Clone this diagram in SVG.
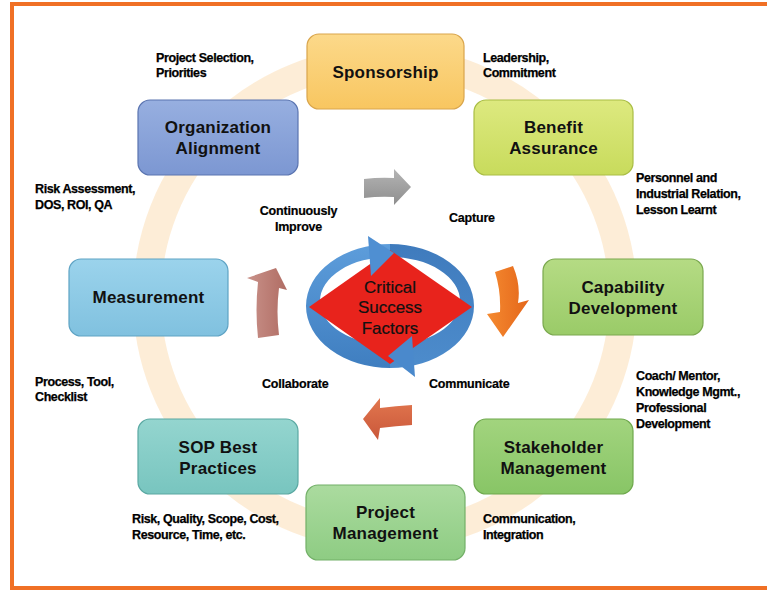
<svg xmlns="http://www.w3.org/2000/svg" width="767" height="592" viewBox="0 0 767 592">
  <defs>
    <linearGradient id="gSpon" x1="0" y1="0" x2="0" y2="1"><stop offset="0" stop-color="#fcd98a"/><stop offset="1" stop-color="#f8c660"/></linearGradient>
    <linearGradient id="gOrg" x1="0" y1="0" x2="0" y2="1"><stop offset="0" stop-color="#97afe0"/><stop offset="1" stop-color="#7c97d2"/></linearGradient>
    <linearGradient id="gBen" x1="0" y1="0" x2="0" y2="1"><stop offset="0" stop-color="#dde97f"/><stop offset="1" stop-color="#c8db5c"/></linearGradient>
    <linearGradient id="gCap" x1="0" y1="0" x2="0" y2="1"><stop offset="0" stop-color="#b5db84"/><stop offset="1" stop-color="#9acb68"/></linearGradient>
    <linearGradient id="gStk" x1="0" y1="0" x2="0" y2="1"><stop offset="0" stop-color="#a2d47e"/><stop offset="1" stop-color="#88c566"/></linearGradient>
    <linearGradient id="gPrj" x1="0" y1="0" x2="0" y2="1"><stop offset="0" stop-color="#abdb9f"/><stop offset="1" stop-color="#8ecc83"/></linearGradient>
    <linearGradient id="gSop" x1="0" y1="0" x2="0" y2="1"><stop offset="0" stop-color="#94d5cf"/><stop offset="1" stop-color="#78c5bf"/></linearGradient>
    <linearGradient id="gMea" x1="0" y1="0" x2="0" y2="1"><stop offset="0" stop-color="#9bd3ec"/><stop offset="1" stop-color="#80c1df"/></linearGradient>
    <linearGradient id="gGray" x1="0" y1="0" x2="0" y2="1"><stop offset="0" stop-color="#b4b4b4"/><stop offset="1" stop-color="#8e8e8e"/></linearGradient>
    <linearGradient id="gOrange" x1="0" y1="0" x2="1" y2="0"><stop offset="0" stop-color="#f58a30"/><stop offset="1" stop-color="#e4661a"/></linearGradient>
    <linearGradient id="gRust" x1="0" y1="0" x2="0" y2="1"><stop offset="0" stop-color="#e2774f"/><stop offset="1" stop-color="#c9573a"/></linearGradient>
    <linearGradient id="gRose" x1="0" y1="0" x2="1" y2="0"><stop offset="0" stop-color="#c9928a"/><stop offset="1" stop-color="#b06c63"/></linearGradient>
    <linearGradient id="gBlueL" x1="0" y1="0" x2="0" y2="1"><stop offset="0" stop-color="#5d9ddb"/><stop offset="1" stop-color="#3f7ec0"/></linearGradient>
    <linearGradient id="gBlueR" x1="0" y1="0" x2="0" y2="1"><stop offset="0" stop-color="#3f7bbd"/><stop offset="1" stop-color="#4d8ccc"/></linearGradient>
    <style>
      .node { stroke-width: 1.2; }
      .lbl { font-family: "Liberation Sans", Arial, sans-serif; font-weight: bold; font-size: 17px; letter-spacing: 0.2px; fill: #111; text-anchor: middle; }
      .note { font-family: "Liberation Sans", Arial, sans-serif; font-weight: bold; font-size: 12.5px; letter-spacing: -0.4px; fill: #000; stroke: #000; stroke-width: 0.25; }
      .mid { font-family: "Liberation Sans", Arial, sans-serif; font-weight: bold; font-size: 12.5px; letter-spacing: -0.2px; fill: #000; stroke: #000; stroke-width: 0.2; }
      .csf { font-family: "Liberation Sans", Arial, sans-serif; font-size: 17px; fill: #111; stroke: #111; stroke-width: 0.2; text-anchor: middle; }
    </style>
  </defs>

  <rect width="767" height="592" fill="#ffffff"/>

  <!-- faint cycle ring behind the nodes -->
  <circle cx="385" cy="298" r="238" fill="none" stroke="#fbd5a0" stroke-width="28" opacity="0.42"/>

  <!-- frame -->
  <rect x="12" y="4" width="770" height="584" fill="none" stroke="#f07025" stroke-width="4"/>

  <!-- curved block arrows between the center and the cycle -->
  <g id="connectors">
    <path d="M364 179 Q380 177 394 178 L394 169 L411 187 L394 205 L394 197 Q380 196 364 198 Z" fill="url(#gGray)"/>
    <path d="M495 272 L513 266 Q521 285 518 303 L529 300 L503 337 L487 314 L500 312 Q501 291 495 272 Z" fill="url(#gOrange)"/>
    <path d="M412 405 Q396 406 380 408 L380 398 L363 419 L378 440 L380 428 Q396 426 412 425 Z" fill="url(#gRust)"/>
    <path d="M258 338 Q255 310 258 282 L247 278 L276 268 L287 290 L279 288 Q276 312 279 335 Z" fill="url(#gRose)"/>
  </g>

  <!-- central cycle: Critical Success Factors -->
  <g id="csf">
    <path d="M390 368 A84 62 0 0 1 390 244 L390 257 A70 44 0 0 0 390 345 Z" fill="url(#gBlueL)"/>
    <path d="M390 244 A84 62 0 0 1 390 368 L390 345 A70 44 0 0 0 390 257 Z" fill="url(#gBlueR)"/>
    <polygon points="309,307 390,250 472,307 390,364" fill="#e8231c"/>
    <polygon points="368,236 394,253 371,276" fill="#4f8fd2"/>
    <polygon points="412,336 388,356 415,377" fill="#4a89cc"/>
    <text class="csf" x="390" y="293">Critical</text>
    <text class="csf" x="390" y="313">Success</text>
    <text class="csf" x="390" y="334">Factors</text>
  </g>

  <g id="sponsorship">
    <rect class="node" x="307" y="34" width="157" height="75" rx="12" fill="url(#gSpon)" stroke="#d9a54c"/>
    <text class="lbl" x="385.5" y="78">Sponsorship</text>
  </g>
  <g id="organization-alignment">
    <rect class="node" x="138" y="100" width="160" height="75" rx="12" fill="url(#gOrg)" stroke="#5a74b0"/>
    <text class="lbl" x="218" y="133">Organization</text>
    <text class="lbl" x="218" y="154">Alignment</text>
  </g>
  <g id="benefit-assurance">
    <rect class="node" x="474" y="100" width="159" height="75" rx="12" fill="url(#gBen)" stroke="#a9bd44"/>
    <text class="lbl" x="553.5" y="133">Benefit</text>
    <text class="lbl" x="553.5" y="154">Assurance</text>
  </g>
  <g id="capability-development">
    <rect class="node" x="543" y="259" width="160" height="76" rx="12" fill="url(#gCap)" stroke="#7aa84e"/>
    <text class="lbl" x="623" y="293">Capability</text>
    <text class="lbl" x="623" y="314">Development</text>
  </g>
  <g id="stakeholder-management">
    <rect class="node" x="474" y="419" width="159" height="75" rx="12" fill="url(#gStk)" stroke="#6ea84c"/>
    <text class="lbl" x="553.5" y="453">Stakeholder</text>
    <text class="lbl" x="553.5" y="474">Management</text>
  </g>
  <g id="project-management">
    <rect class="node" x="306" y="485" width="159" height="75" rx="12" fill="url(#gPrj)" stroke="#73b068"/>
    <text class="lbl" x="385.5" y="518">Project</text>
    <text class="lbl" x="385.5" y="539">Management</text>
  </g>
  <g id="sop-best-practices">
    <rect class="node" x="138" y="419" width="160" height="75" rx="12" fill="url(#gSop)" stroke="#5aa8a2"/>
    <text class="lbl" x="218" y="453">SOP Best</text>
    <text class="lbl" x="218" y="474">Practices</text>
  </g>
  <g id="measurement">
    <rect class="node" x="69" y="259" width="159" height="77" rx="12" fill="url(#gMea)" stroke="#5ea3c4"/>
    <text class="lbl" x="148.5" y="303">Measurement</text>
  </g>

  <!-- annotations -->
  <g id="notes">
    <text class="note" x="156" y="62">Project Selection,</text>
    <text class="note" x="156" y="77">Priorities</text>
    <text class="note" x="483" y="62">Leadership,</text>
    <text class="note" x="483" y="77">Commitment</text>
    <text class="note" x="636" y="182">Personnel and</text>
    <text class="note" x="636" y="198">Industrial Relation,</text>
    <text class="note" x="636" y="214">Lesson Learnt</text>
    <text class="note" x="35" y="193">Risk Assessment,</text>
    <text class="note" x="35" y="209">DOS, ROI, QA</text>
    <text class="note" x="35" y="386">Process, Tool,</text>
    <text class="note" x="35" y="401">Checklist</text>
    <text class="note" x="636" y="380">Coach/ Mentor,</text>
    <text class="note" x="636" y="396">Knowledge Mgmt.,</text>
    <text class="note" x="636" y="412">Professional</text>
    <text class="note" x="636" y="428">Development</text>
    <text class="note" x="132" y="523">Risk, Quality, Scope, Cost,</text>
    <text class="note" x="132" y="539">Resource, Time, etc.</text>
    <text class="note" x="483" y="523">Communication,</text>
    <text class="note" x="483" y="539">Integration</text>
  </g>

  <g id="cycle-labels">
    <text class="mid" x="298.5" y="215" text-anchor="middle">Continuously</text>
    <text class="mid" x="298.5" y="231" text-anchor="middle">Improve</text>
    <text class="mid" x="449" y="222">Capture</text>
    <text class="mid" x="262" y="388">Collaborate</text>
    <text class="mid" x="429" y="388">Communicate</text>
  </g>
</svg>
